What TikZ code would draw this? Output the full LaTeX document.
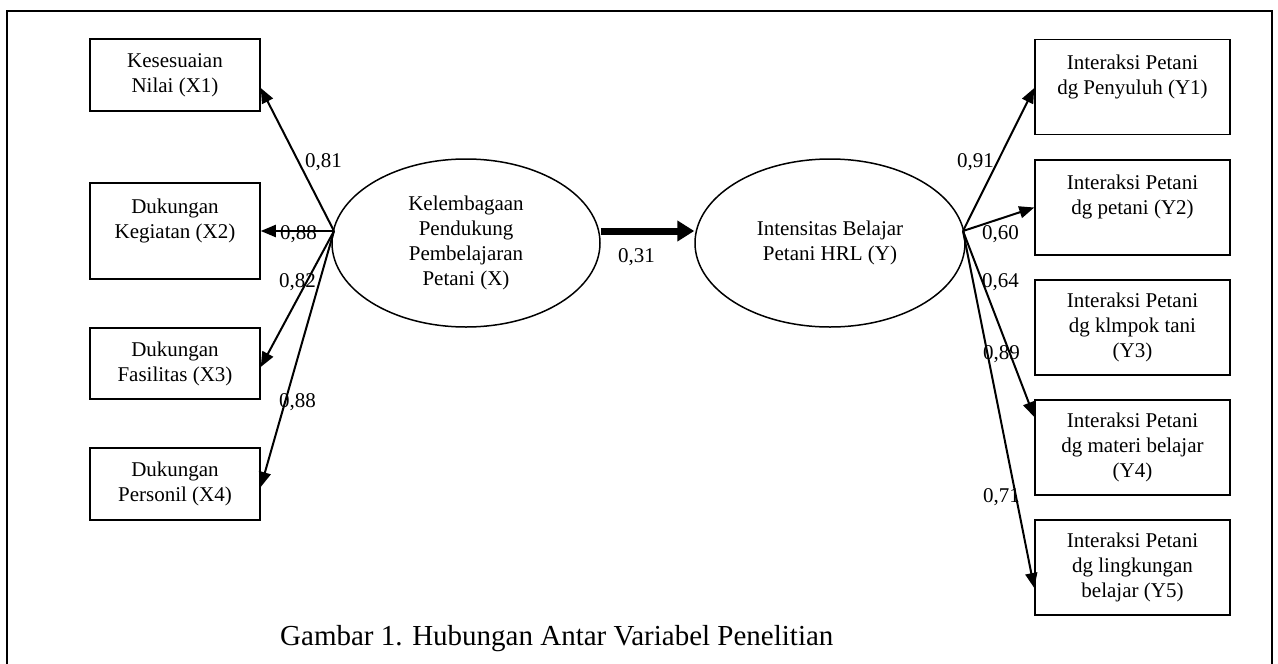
\documentclass[tikz,border=0pt]{standalone}
\usepackage{fontspec}
\setmainfont{Liberation Serif}
\usetikzlibrary{arrows.meta,shapes.geometric}
\begin{document}
\begin{tikzpicture}[x=1pt,y=-1pt,
  box/.style={draw,line width=1.5pt,inner sep=0pt,align=center,
    font=\fontsize{21}{25}\selectfont},
  lbox/.style={box,minimum width=170pt},
  rbox/.style={box,minimum width=195pt,minimum height=95pt},
  latent/.style={draw,ellipse,line width=1.5pt,inner sep=0pt,align=center,
    minimum width=268pt,minimum height=168pt,font=\fontsize{21}{25}\selectfont},
  arr/.style={line width=2pt,-{Triangle[length=15pt,width=12pt]}},
  bigarr/.style={line width=7pt,-{Triangle[length=17pt,width=20pt]}},
  lab/.style={anchor=base west,inner sep=0pt,font=\fontsize{21}{25}\selectfont},
]
\useasboundingbox (0,0) rectangle (1278,664);
\draw[line width=2pt] (7,664) -- (7,11) -- (1272,11) -- (1272,664);

% left indicator boxes
\node[lbox,minimum height=72pt] (x1) at (175,75) {Kesesuaian\\Nilai (X1)};
\node[lbox,minimum height=96pt] (x2) at (175,231) {Dukungan\\Kegiatan (X2)\\\mbox{}};
\node[lbox,minimum height=71pt] (x3) at (175,363.5) {Dukungan\\Fasilitas (X3)};
\node[lbox,minimum height=72pt] (x4) at (175,484) {Dukungan\\Personil (X4)};

% right indicator boxes
\node[rbox] (y1) at (1132.5,87) {Interaksi Petani\\dg Penyuluh (Y1)\\\mbox{}};
\node[rbox] (y2) at (1132.5,207.5) {Interaksi Petani\\dg petani (Y2)\\\mbox{}};
\node[rbox] (y3) at (1132.5,327.5) {Interaksi Petani\\dg klmpok tani\\(Y3)};
\node[rbox] (y4) at (1132.5,447.5) {Interaksi Petani\\dg materi belajar\\(Y4)};
\node[rbox] (y5) at (1132.5,567.5) {Interaksi Petani\\dg lingkungan\\belajar (Y5)};

% latent variables
\node[latent] (e1) at (466,243) {Kelembagaan\\Pendukung\\Pembelajaran\\Petani (X)};
\node[latent,minimum width=270pt] (e2) at (830,243) {Intensitas Belajar\\Petani HRL (Y)};

\coordinate (cx) at (334,231);
\coordinate (cy) at (963,231);

% structural path
\draw[bigarr] (e1.east |- cx) -- (e2.west |- cx);

% left loadings
\draw[arr] (cx) -- ([yshift=-13pt]x1.east);
\draw[arr] (cx) -- (x2.east);
\draw[arr] (cx) -- ([yshift=-3.5pt]x3.east);
\draw[arr] (cx) -- ([yshift=-3pt]x4.east);

% right loadings
\draw[arr] (cy) -- ([yshift=-1pt]y1.west);
\draw[arr] (cy) -- (y2.west);
\draw[arr] (cy) -- ([yshift=30.5pt]y4.west);
\draw[arr] (cy) -- ([yshift=-20.5pt]y5.west);

% labels
\node[lab] (l81) at (305,167) {0,81};
\node[lab] (l88a) at (280,239) {0,88};
\node[lab] (l82) at (279,287) {0,82};
\node[lab] (l88b) at (279,407) {0,88};
\node[lab] (l31) at (618,262) {0,31};
\node[lab] (l91) at (957,167) {0,91};
\node[lab] (l60) at (982,239) {0,60};
\node[lab] (l64) at (982,287) {0,64};
\node[lab] (l89) at (983,359) {0,89};
\node[lab] (l71) at (983,502) {0,71};

% caption
\node[anchor=base west,inner sep=0pt,font=\fontsize{29}{34}\selectfont] (cap) at (280,645)
  {Gambar 1. Hubungan Antar Variabel Penelitian};
\end{tikzpicture}
\end{document}
